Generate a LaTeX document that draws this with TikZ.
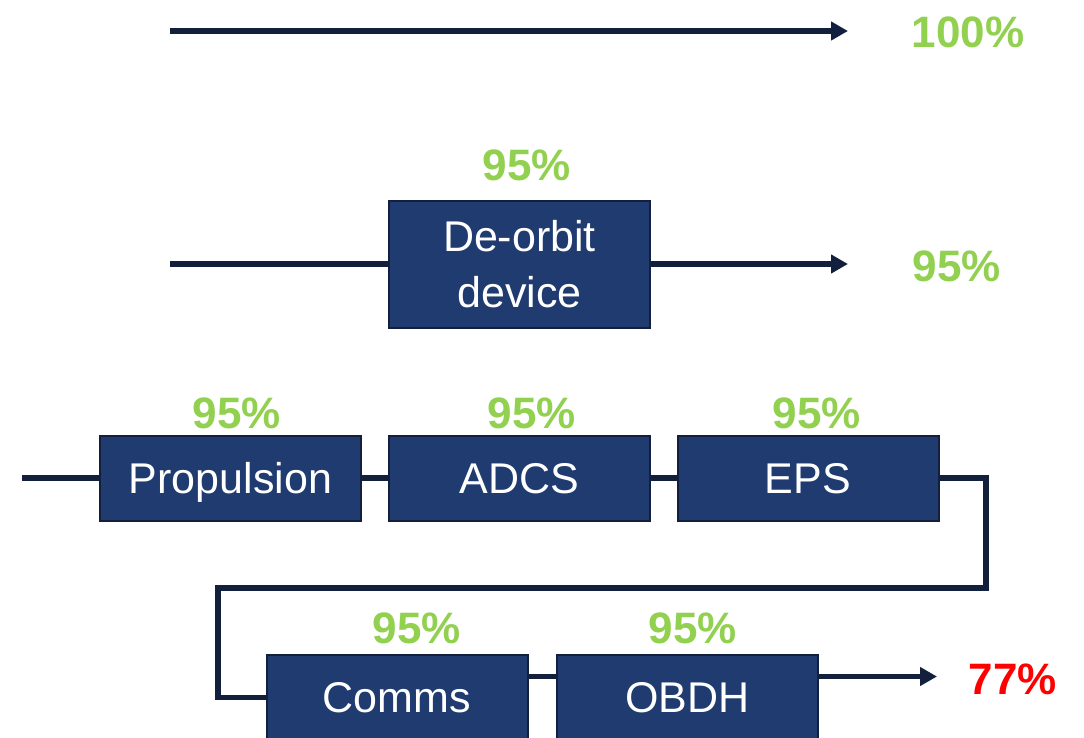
\documentclass[tikz,border=0pt]{standalone}
\usepackage{fontspec}
\setmainfont{Liberation Sans}
\usepackage{xcolor}
\usetikzlibrary{arrows.meta}

\definecolor{boxblue}{HTML}{1F3B70}
\definecolor{darknavy}{HTML}{12203D}
\definecolor{relgreen}{HTML}{92D050}
\definecolor{relred}{HTML}{FF0000}

\begin{document}
\begin{tikzpicture}[
		x=1pt, y=-1pt,
		block/.style={rectangle, draw=darknavy, line width=2pt, fill=boxblue, text=white, minimum width=261pt, minimum height=85pt, inner sep=0pt, align=center, text depth=0pt, font=\fontsize{43}{56}\selectfont},
		rel/.style={text=relgreen, font=\fontsize{44}{50}\selectfont\bfseries, inner sep=0pt},
		wire/.style={draw=darknavy, line width=5.5pt},
		arrow/.style={wire, -{Triangle[length=17pt, width=18pt]}}
	]
		\useasboundingbox (0,0) rectangle (1084,737);
		\clip (0,0) rectangle (1084,737);

		% No device
		\coordinate (in1) at (170,31);
		\coordinate (out1) at (848,31);
		\node[rel] (r100) at (968,32) {100\%};
		\draw[arrow] (in1) -- (out1);

		% De-orbit device
		\coordinate (in2) at (170,264);
		\coordinate (out2) at (848,264);
		\node[block, minimum height=127pt, text depth={}] (deorbit) at (519.5,264) {De-orbit\\device};
		\node[rel] (rdeorbit) at (527,165) {95\%};
		\node[rel] (r95) at (957,266) {95\%};
		\draw[wire] (in2) -- (deorbit);
		\draw[arrow] (deorbit) -- (out2);

		% Full chain
		\coordinate (in3) at (22,478);
		\node[block] (prop) at (230.5,478) {Propulsion};
		\node[block] (adcs) at (519.5,478) {ADCS};
		\node[block] (eps) at (808,478) {EPS};
		\node[block] (comms) at (397,697.5) {Comms};
		\node[block] (obdh) at (687.5,697.5) {OBDH};
		\node[rel] (rprop) at (237,413) {95\%};
		\node[rel] (radcs) at (532,413) {95\%};
		\node[rel] (reps) at (817,413) {95\%};
		\node[rel] (rcomms) at (417,628) {95\%};
		\node[rel] (robdh) at (693,628) {95\%};
		\coordinate (turnr) at (986,588);
		\coordinate (turnl) at (218,588);
		\coordinate (out3) at (937,676.5);
		\node[rel, text=relred] (r77) at (1013,679) {77\%};

		% Arrows
		\draw[wire] (in3) -- (prop);
		\draw[wire] (prop) -- (adcs);
		\draw[wire] (adcs) -- (eps);
		\draw[wire] (eps.east) -| (turnr) -- (turnl) |- (comms.west);
		\draw[wire] ([yshift=21pt]comms.east) -- ([yshift=21pt]obdh.west);
		\draw[arrow] ([yshift=21pt]obdh.east) -- (out3);
	\end{tikzpicture}
\end{document}
